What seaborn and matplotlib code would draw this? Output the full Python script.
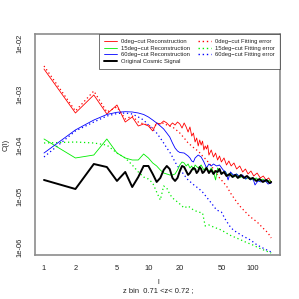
import matplotlib
matplotlib.use("Agg")
import matplotlib.pyplot as plt
from matplotlib.lines import Line2D
import seaborn as sns
import pandas as pd

# ---------------- data ----------------
ell_orig = [1, 2, 3, 4, 5, 6, 7, 8, 9, 10, 11, 12, 13, 14, 15, 16, 17, 18, 19,
            20, 21, 22, 23, 24, 25, 26, 27, 28, 29, 30, 31, 32, 33, 34, 36, 38, 40,
            42, 44, 46, 48, 50, 53, 56, 60, 64, 68, 72, 77, 82, 88, 94, 100, 108,
            116, 125, 135, 145, 150]
cl_orig = [2.09e-5, 1.39e-5, 4.30e-5, 3.75e-5, 2.00e-5, 3.00e-5, 1.52e-5, 2.39e-5,
           3.93e-5, 3.93e-5, 2.74e-5, 1.91e-5, 2.29e-5, 3.28e-5, 3.93e-5, 3.43e-5,
           2.29e-5, 2.00e-5, 2.29e-5,
           3.13e-5, 3.93e-5, 3.75e-5, 3.13e-5, 2.62e-5, 2.86e-5, 3.28e-5, 3.59e-5,
           3.43e-5, 2.86e-5, 3.13e-5, 3.75e-5, 3.43e-5, 2.86e-5, 3.00e-5, 3.59e-5,
           2.86e-5, 3.28e-5, 2.74e-5, 3.13e-5, 3.00e-5, 3.43e-5, 2.74e-5, 3.00e-5,
           2.50e-5, 2.74e-5, 2.39e-5, 2.62e-5, 2.29e-5, 2.62e-5, 2.29e-5, 2.50e-5,
           2.18e-5, 2.29e-5, 2.00e-5, 2.18e-5, 1.91e-5, 2.09e-5, 1.82e-5, 1.91e-5]

ell_rec0 = [1, 2, 3, 4, 5, 6, 7, 8, 9, 10, 11, 12, 13, 14, 15, 16, 17, 18, 19, 20,
            21, 22, 23, 24, 25, 26, 27, 28, 29, 30, 31, 32, 33, 34, 35, 36, 37, 38,
            40, 42, 44, 46, 48, 50, 53, 56, 59, 62, 66, 70, 75, 80, 85, 90, 96, 102,
            110, 118, 126, 134, 142, 150]
cl_rec0 = [3.13e-3, 4.30e-4, 9.70e-4, 4.11e-4, 6.17e-4, 2.86e-4, 3.59e-4, 2.39e-4,
           2.62e-4, 2.39e-4, 1.91e-4, 2.74e-4, 2.62e-4, 3.00e-4, 2.74e-4, 2.39e-4,
           2.74e-4, 2.50e-4, 2.86e-4, 2.62e-4, 2.18e-4, 2.74e-4, 2.29e-4, 1.82e-4,
           2.29e-4, 1.52e-4, 1.74e-4, 1.16e-4, 1.39e-4, 9.70e-5, 1.27e-4, 1.01e-4,
           1.21e-4, 8.09e-5, 9.70e-5, 8.46e-5, 1.01e-4, 6.45e-5, 8.09e-5, 5.90e-5,
           7.06e-5, 5.15e-5, 6.17e-5, 4.71e-5, 5.64e-5, 4.11e-5, 4.92e-5, 3.93e-5,
           4.50e-5, 3.43e-5, 3.93e-5, 3.00e-5, 3.43e-5, 2.74e-5, 3.13e-5, 2.50e-5,
           2.86e-5, 2.29e-5, 2.50e-5, 2.09e-5, 2.29e-5, 1.91e-5]

ell_err0 = [1, 2, 3, 4, 5, 6, 7, 8, 9, 10, 11, 12, 13, 14, 15, 16, 17, 18, 19, 20,
            22, 24, 26, 28, 30, 33, 36, 40, 44, 48, 52, 56, 62, 68, 75, 85, 95, 110,
            125, 140, 150]
cl_err0 = [3.59e-3, 4.71e-4, 1.16e-3, 4.50e-4, 5.64e-4, 3.28e-4, 3.75e-4, 2.86e-4,
           2.62e-4, 2.50e-4, 2.18e-4, 2.62e-4, 2.62e-4, 2.74e-4, 2.50e-4, 2.39e-4,
           2.29e-4, 2.09e-4, 1.91e-4, 1.74e-4, 1.39e-4, 1.11e-4, 9.70e-5, 8.46e-5,
           7.73e-5, 6.17e-5, 5.15e-5, 3.93e-5, 3.00e-5, 2.29e-5, 1.91e-5, 1.59e-5,
           1.11e-5, 8.46e-6, 6.45e-6, 4.92e-6, 3.93e-6, 3.13e-6, 2.39e-6, 1.91e-6,
           1.52e-6]

ell_rec15 = [1, 2, 3, 4, 5, 6, 7, 8, 9, 10, 11, 12, 13, 14, 15, 16, 17, 18, 19,
             20, 21, 22, 23, 24, 25, 26, 27, 28, 30, 32, 34, 36, 38, 40, 42, 44, 46,
             48, 50, 54, 58, 62, 66, 70, 75, 80, 86, 92, 100, 108, 116, 125, 135,
             145, 150]
cl_rec15 = [1.33e-4, 5.64e-5, 6.45e-5, 1.33e-4, 7.06e-5, 5.64e-5, 5.15e-5, 5.15e-5,
            6.75e-5, 5.64e-5, 4.50e-5, 3.93e-5, 3.28e-5, 2.86e-5, 2.74e-5, 2.62e-5,
            2.62e-5, 2.74e-5, 3.28e-5,
            4.11e-5, 4.71e-5, 4.50e-5, 3.93e-5, 4.30e-5, 3.59e-5, 3.93e-5, 3.28e-5,
            4.11e-5, 3.59e-5, 4.11e-5, 3.28e-5, 3.75e-5, 3.00e-5, 3.59e-5, 3.00e-5,
            2.09e-5, 3.59e-5, 3.13e-5, 2.74e-5, 3.13e-5, 2.50e-5, 2.86e-5, 2.39e-5,
            2.74e-5, 2.29e-5, 2.50e-5, 2.18e-5, 2.39e-5, 2.09e-5, 2.29e-5, 2.00e-5,
            2.18e-5, 1.91e-5, 2.09e-5, 1.91e-5]

ell_err15 = [1, 2, 3, 4, 5, 6, 7, 8, 9, 10, 11, 12, 13, 14, 15, 16, 17, 18, 19, 20,
             22, 24, 27, 30, 33, 35, 38, 42, 50, 60, 70, 85, 100, 120, 150]
cl_err15 = [1.11e-4, 1.16e-4, 1.11e-4, 1.01e-4, 7.06e-5, 5.64e-5, 4.11e-5, 3.00e-5,
            2.39e-5, 2.18e-5, 1.82e-5, 1.21e-5, 8.46e-6, 1.59e-5, 1.45e-5, 1.11e-5,
            9.27e-6, 8.46e-6, 7.73e-6, 7.06e-6, 5.90e-6, 6.45e-6, 5.39e-6, 4.92e-6,
            4.71e-6, 2.62e-6, 2.74e-6, 2.50e-6, 2.18e-6, 1.74e-6, 1.52e-6, 1.27e-6,
            1.11e-6, 9.27e-7, 7.73e-7]

ell_rec60 = [1, 2, 3, 4, 5, 6, 7, 8, 9, 10, 11, 12, 13, 14, 15, 16, 17, 18, 19,
             20, 22, 24, 25, 26, 27, 28, 30, 32, 34, 36, 38, 40, 42, 45, 48, 52, 55,
             58, 61, 65, 70, 75, 80, 85, 90, 95, 100, 105, 112, 120, 130, 140, 150]
cl_rec60 = [7.06e-5, 2.00e-4, 3.13e-4, 4.02e-4, 4.44e-4, 4.56e-4, 4.50e-4, 4.30e-4,
            4.02e-4, 3.59e-4, 3.13e-4, 2.74e-4, 2.39e-4, 2.09e-4, 1.74e-4, 1.46e-4,
            1.11e-4, 8.85e-5, 7.73e-5,
            7.22e-5, 7.06e-5, 6.17e-5, 5.64e-5, 4.92e-5, 4.71e-5, 5.64e-5, 6.45e-5,
            5.90e-5, 4.71e-5, 3.59e-5, 4.30e-5, 3.93e-5, 4.30e-5, 3.93e-5, 4.11e-5,
            3.28e-5, 3.00e-5, 2.09e-5, 3.00e-5, 2.62e-5, 2.74e-5, 2.39e-5, 2.62e-5,
            2.18e-5, 2.39e-5, 2.09e-5, 2.29e-5, 1.67e-5, 2.00e-5, 1.91e-5, 2.09e-5,
            1.74e-5, 1.82e-5]

ell_err60 = [1, 2, 3, 4, 5, 6, 7, 8, 9, 10, 11, 12, 13, 14, 15, 16, 17, 18, 19, 20,
             22, 24, 26, 28, 30, 33, 36, 40, 45, 50, 55, 60, 65, 72, 80, 95, 110, 130,
             150]
cl_err60 = [5.90e-5, 1.91e-4, 2.86e-4, 3.75e-4, 4.20e-4, 4.30e-4, 4.11e-4, 3.59e-4,
            3.13e-4, 2.50e-4, 2.09e-4, 1.74e-4, 1.39e-4, 1.11e-4, 8.85e-5, 7.39e-5,
            5.90e-5, 4.71e-5, 3.93e-5, 3.43e-5, 2.62e-5, 2.09e-5, 1.82e-5, 1.59e-5,
            1.45e-5, 1.21e-5, 9.70e-6, 7.39e-6, 5.39e-6, 4.92e-6, 3.43e-6, 2.62e-6,
            2.18e-6, 1.91e-6, 1.67e-6, 1.39e-6, 1.11e-6, 9.27e-7, 8.09e-7]

x_ticks = [1, 2, 5, 10, 20, 50, 100]
x_tick_labels = ["1", "2", "5", "10", "20", "50", "100"]
y_ticks = [1e-6, 1e-5, 1e-4, 1e-3, 1e-2]
y_tick_labels = ["1e-06", "1e-05", "1e-04", "1e-03", "1e-02"]

legend_labels = ["0deg\u2212cut Reconstruction", "15deg\u2212cut Reconstruction",
                 "60deg\u2212cut Reconstruction", "Original Cosmic Signal",
                 "0deg\u2212cut Fitting error", "15deg\u2212cut Fitting error",
                 "60deg\u2212cut Fitting error"]
x_label = "l"
y_label = "C(l)"
sub_label = "z bin  0.71 <z< 0.72 ;"

# ---------------- plotting ----------------
sns.set_style("white")
plt.rcParams["font.family"] = ["Liberation Sans", "DejaVu Sans"]

W = 299
fig = plt.figure(figsize=(2.99, 2.99), dpi=100)
ax = fig.add_axes([35 / W, (W - 255) / W, (280 - 35) / W, (255 - 34) / W])

RED, GREEN, BLUE = "#FF0000", "#00EE00", "#0000FF"
thin = 0.6
dot = (1, 2.2)
series = [
    (ell_rec0, cl_rec0, RED, thin, "-"),
    (ell_rec15, cl_rec15, GREEN, thin, "-"),
    (ell_rec60, cl_rec60, BLUE, thin, "-"),
    (ell_orig, cl_orig, "#000000", 1.4, "-"),
    (ell_err0, cl_err0, RED, 0.9, dot),
    (ell_err15, cl_err15, GREEN, 0.9, dot),
    (ell_err60, cl_err60, BLUE, 0.9, dot),
]
draw_order = [4, 5, 6, 0, 1, 2, 3]
for i in draw_order:
    ell, cl, col, lw, ls = series[i]
    df = pd.DataFrame({"l": ell, "C": cl})
    sns.lineplot(data=df, x="l", y="C", ax=ax, estimator=None, sort=False,
                 legend=False, color=col, lw=lw)
    if ls != "-":
        ax.lines[-1].set_dashes(ls)

ax.set_xscale("log")
ax.set_yscale("log")
ax.set_xlim(10 ** (-9 / 104.4), 10 ** (236 / 104.4))
ax.set_ylim(10 ** (-1.151 - 255 / 51), 10 ** (-1.151 - 34 / 51))
ax.minorticks_off()
ax.set_xticks(x_ticks)
ax.set_xticklabels(x_tick_labels)
ax.set_yticks(y_ticks)
ax.set_yticklabels(y_tick_labels, rotation=90, va="center")
ax.tick_params(axis="both", direction="out", length=3.5, width=0.8,
               color="#7a7a7a", labelsize=5.4, labelcolor="#222222", pad=4)
ax.tick_params(axis="y", pad=5)
ax.set_xlabel("")
ax.set_ylabel("")
for s in ax.spines.values():
    s.set_visible(True)
    s.set_color("#8c8c8c")
    s.set_linewidth(1.2)

fig.text(6 / W, 1 - 145 / W, y_label, rotation=90, ha="center", va="center",
         fontsize=5.4, color="#222222")
fig.text(158 / W, 1 - 282 / W, x_label, ha="center", va="center",
         fontsize=5.4, color="#222222")
fig.text(158 / W, 1 - 291 / W, sub_label, ha="center", va="center",
         fontsize=5.4, color="#222222")

handles = []
for ell, cl, col, lw, ls in series:
    h = Line2D([], [], color=col, lw=lw if ls == "-" else 1.0)
    if ls != "-":
        h.set_dashes((1, 2))
    handles.append(h)
leg = ax.legend(handles, legend_labels, ncol=2, loc="upper left",
                bbox_to_anchor=((99 - 35) / 245, 0, (280 - 99) / 245, 1),
                mode="expand", borderaxespad=0, frameon=True,
                fancybox=False, edgecolor="#333333", fontsize=4.2,
                handlelength=2.2, handletextpad=0.7, columnspacing=1.0,
                labelspacing=0.25, borderpad=0.85)
leg.get_frame().set_linewidth(0.6)
for t in leg.get_texts():
    t.set_color("#222222")

fig.savefig("out.png", dpi=100)
